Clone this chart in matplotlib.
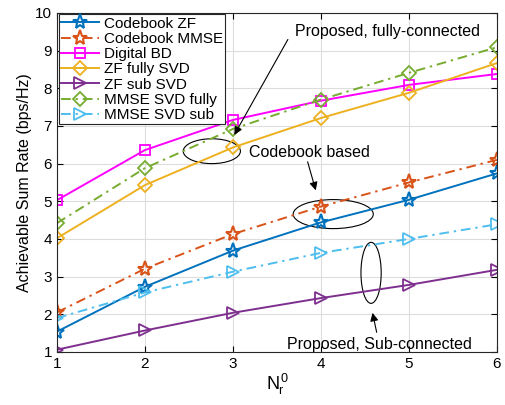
import numpy as np
import matplotlib
matplotlib.use("Agg")
import matplotlib.pyplot as plt
from matplotlib.patches import Ellipse

plt.rcParams['font.family'] = ['Liberation Sans', 'DejaVu Sans']
plt.rcParams['mathtext.fontset'] = 'custom'
plt.rcParams['mathtext.rm'] = 'Liberation Sans'
plt.rcParams['mathtext.it'] = 'Liberation Sans'

nr = [1, 2, 3, 4, 5, 6]
codebook_zf = [1.54, 2.73, 3.69, 4.44, 5.04, 5.74]
codebook_mmse = [2.05, 3.21, 4.13, 4.86, 5.50, 6.10]
digital_bd = [5.03, 6.36, 7.16, 7.67, 8.09, 8.38]
zf_fully_svd = [4.02, 5.43, 6.43, 7.21, 7.88, 8.67]
zf_sub_svd = [1.06, 1.57, 2.04, 2.43, 2.78, 3.18]
mmse_svd_fully = [4.42, 5.88, 6.92, 7.70, 8.41, 9.09]
mmse_svd_sub = [1.90, 2.58, 3.13, 3.63, 4.00, 4.39]

fig = plt.figure(figsize=(5.06, 4.05), dpi=100)
ax = fig.add_axes([0.1126, 0.131, 0.8694, 0.837])

lw = 1.4
ms = 9
dd = (5, 2.5, 1.2, 2.5)
ax.plot(nr, codebook_zf, '-', color='#0072BD', marker='*', ms=ms + 2, mfc='none', lw=lw, mew=1.5, label='Codebook ZF')
ax.plot(nr, codebook_mmse, color='#D95319', dashes=dd, marker='*', ms=ms + 2, mfc='none', lw=lw, mew=1.5, label='Codebook MMSE')
ax.plot(nr, digital_bd, '-', color='#FF00FF', marker='s', ms=ms - 2, mfc='none', lw=lw, mew=1.3, label='Digital BD')
ax.plot(nr, zf_fully_svd, '-', color='#EDB120', marker='D', ms=ms - 1.5, mfc='none', lw=lw, mew=1.3, label='ZF fully SVD')
ax.plot(nr, zf_sub_svd, '-', color='#7E2F8E', marker='>', ms=ms, mfc='none', lw=lw, mew=1.3, label='ZF sub SVD')
ax.plot(nr, mmse_svd_fully, color='#77AC30', dashes=dd, marker='D', ms=ms - 1.5, mfc='none', lw=lw, mew=1.3, label='MMSE SVD fully')
ax.plot(nr, mmse_svd_sub, color='#4DBEEE', dashes=dd, marker='>', ms=ms, mfc='none', lw=lw, mew=1.3, label='MMSE SVD sub')

ax.set_xlim(1, 6)
ax.set_ylim(1, 10)
ax.set_xticks(nr)
ax.set_yticks(range(1, 11))
ax.grid(True, color='#dddddd', lw=0.8)
ax.set_axisbelow(True)
ax.tick_params(direction='in', labelsize=11, top=True, right=True, length=4)
for s in ax.spines.values():
    s.set_color('#262626')
    s.set_linewidth(0.8)
ax.set_xlabel(r'$N_r^0$', fontsize=13, labelpad=1)
ax.set_ylabel('Achievable Sum Rate (bps/Hz)', fontsize=11.5, labelpad=2)

leg = ax.legend(loc='upper left', fontsize=11, fancybox=False, edgecolor='#262626',
                borderpad=0.15, labelspacing=0.08, handlelength=2.5, handletextpad=0.3,
                borderaxespad=0.1, framealpha=1)
leg.get_frame().set_linewidth(0.8)

# annotations
ax.add_patch(Ellipse((2.76, 6.33), 0.65, 0.66, fill=False, color='black', lw=0.8))
ax.add_patch(Ellipse((4.14, 4.66), 0.91, 0.77, fill=False, color='black', lw=0.8))
ax.add_patch(Ellipse((4.57, 3.10), 0.23, 1.62, fill=False, color='black', lw=0.8))

arrow = dict(arrowstyle='-|>', color='black', lw=0.8, mutation_scale=12)
ax.annotate('', xy=(3.0, 6.70), xytext=(3.64, 9.36), arrowprops=arrow)
ax.annotate('', xy=(3.95, 5.22), xytext=(3.84, 6.12), arrowprops=arrow)
ax.annotate('', xy=(4.58, 2.11), xytext=(4.64, 1.45), arrowprops=arrow)

ax.text(4.76, 9.51, 'Proposed, fully-connected', fontsize=11.5, ha='center', va='center')
ax.text(3.87, 6.30, 'Codebook based', fontsize=11.5, ha='center', va='center')
ax.text(4.67, 1.19, 'Proposed, Sub-connected', fontsize=11.5, ha='center', va='center')

fig.savefig('out.png', dpi=100)
